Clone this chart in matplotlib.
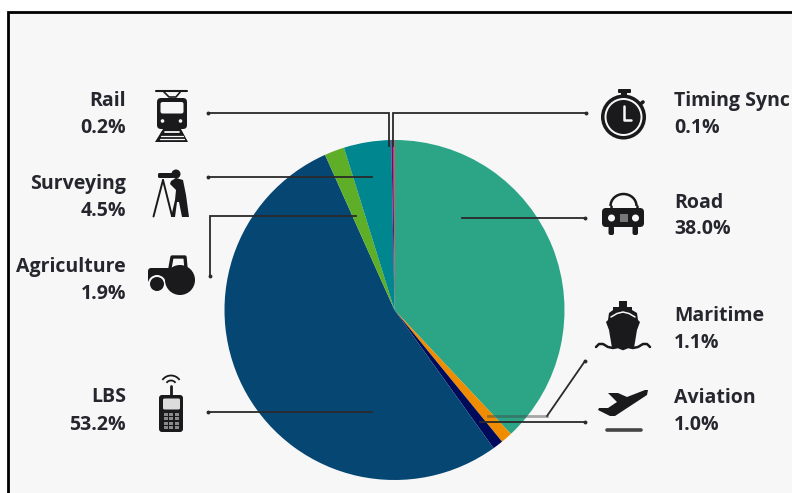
import numpy as np
import matplotlib
matplotlib.use("Agg")
import matplotlib.pyplot as plt
from matplotlib.patches import Circle, FancyBboxPatch, Polygon, Rectangle, Arc

# Slices run clockwise from twelve o'clock
sectors = ["Road", "Maritime", "Aviation", "LBS", "Agriculture", "Surveying", "Rail", "Timing Sync"]
shares = [38.0, 1.1, 1.0, 53.2, 1.9, 4.5, 0.2, 0.1]
colors = ["#2ca587", "#f08c00", "#000a5a", "#054673", "#5fae28", "#00868f", "#6a0a78", "#cc1020"]

INK = "#1a1a1c"
TEXT = "#26262e"
PAPER = "#f7f7f7"

fig = plt.figure(figsize=(7.92, 4.93), dpi=100, facecolor="white")
ax = fig.add_axes([0, 0, 1, 1])

# y axis points down, so counterclock=True runs clockwise on screen
ax.pie(shares, colors=colors, center=(394.5, 310), radius=170,
       startangle=-90, counterclock=True, frame=True,
       wedgeprops={"linewidth": 0, "zorder": 2})
ax.set_xlim(0, 792)
ax.set_ylim(493, 0)
ax.set_aspect("auto")
ax.axis("off")

# panel
ax.add_patch(Rectangle((8, 12), 800, 500, facecolor=PAPER, edgecolor="black",
                       linewidth=2, zorder=0))


def rrect(x0, y0, x1, y1, r=2, color=INK, z=5):
    ax.add_patch(FancyBboxPatch((x0 + r, y0 + r), x1 - x0 - 2 * r, y1 - y0 - 2 * r,
                                boxstyle=f"round,pad={r},rounding_size={r}",
                                facecolor=color, edgecolor="none", zorder=z))


def poly(pts, color=INK, z=5):
    ax.add_patch(Polygon(pts, closed=True, facecolor=color, edgecolor="none", zorder=z))


def disc(x, y, r, color=INK, z=5):
    ax.add_patch(Circle((x, y), r, facecolor=color, edgecolor="none", zorder=z))


def stroke(xs, ys, lw=1.5, color=INK, z=5):
    ax.plot(xs, ys, color=color, lw=lw, solid_capstyle="round", zorder=z)


def leader(xs, ys, color="#2a2a2a", alpha=1.0):
    ax.plot(xs, ys, color=color, lw=1.3, alpha=alpha, solid_joinstyle="miter", zorder=4)
    ax.plot(xs[0], ys[0], "o", color=color, ms=2.8, mew=0, zorder=4)


def train():
    stroke([155.5, 187], [90.5, 90.5], 1.5)
    stroke([163, 169, 176, 181], [91, 97, 97, 91], 1.2)
    rrect(157, 98, 187, 129, 4)
    rrect(160.5, 102, 183.5, 113.5, 2, PAPER, 6)
    disc(162.5, 121, 1.8, PAPER, 6)
    disc(180.5, 121, 1.8, PAPER, 6)
    poly([(163, 129), (181, 129), (188, 142), (155, 142)])
    stroke([165, 179], [131.5, 131.5], 1.3, PAPER, 6)
    stroke([161, 183], [135.5, 135.5], 0.9, PAPER, 6)
    stroke([160, 184], [139, 139], 0.9, PAPER, 6)


def surveyor():
    rrect(158, 173, 174, 178, 1.5)
    disc(176, 174, 4.5)
    poly([(176, 178), (183, 180), (186, 195), (189, 217), (182, 217), (179, 202),
          (177, 202), (175, 217), (171, 217), (175, 200), (176, 190), (170, 184), (171, 181)])
    stroke([163, 153.5], [180, 216.5], 1.4)
    stroke([163, 172], [180, 216], 1.4)


def tractor():
    rrect(148, 268, 176, 283, 3)
    stroke([170, 172, 185, 186], [268, 257, 257, 268], 2.4)
    disc(157, 284, 9, PAPER, 6)
    disc(157, 284, 7, INK, 7)
    disc(180, 280, 15, INK, 7)


def phone():
    rrect(159, 395, 183, 432, 3)
    rrect(163, 398.5, 180, 409.5, 1.5, "#dcdcdc", 6)
    for row in range(4):
        for col in range(3):
            ax.add_patch(Rectangle((163.5 + col * 5.7, 413 + row * 4.4), 4, 3,
                                   facecolor="#8a8a8a", edgecolor="none", zorder=6))
    stroke([171, 171], [386, 395], 2)
    ax.add_patch(Arc((171, 386), 11, 11, theta1=215, theta2=325, color=INK, lw=1.3, zorder=5))
    ax.add_patch(Arc((171, 386), 21, 21, theta1=215, theta2=325, color=INK, lw=1.3, zorder=5))


def stopwatch():
    disc(623.5, 117, 22.5)
    disc(623.5, 117, 19, PAPER, 6)
    disc(623.5, 117, 17, INK, 7)
    stroke([623.5, 623.5, 631], [106, 119.5, 119.5], 1.8, PAPER, 8)
    rrect(618, 89, 631, 93, 1)
    ax.add_patch(Rectangle((621, 92), 6, 5, facecolor=INK, edgecolor="none", zorder=5))
    stroke([638, 643], [106, 102], 2.6)


def car():
    ax.add_patch(Arc((623.5, 206), 26, 24, theta1=180, theta2=360, color=INK, lw=1.8, zorder=5))
    stroke([610.5, 610.5], [206, 210], 1.8)
    stroke([636.5, 636.5], [206, 210], 1.8)
    rrect(602, 208, 644, 227, 4)
    disc(611.5, 218, 3.5, PAPER, 6)
    disc(635.5, 218, 3.5, PAPER, 6)
    ax.add_patch(Rectangle((619.5, 214), 8, 8, facecolor="#777777", edgecolor="none", zorder=6))
    rrect(608.5, 226, 614, 235, 2)
    rrect(632.5, 226, 638, 235, 2)


def ship():
    poly([(619, 301), (627, 301), (627, 307), (632, 307), (632, 310), (637, 313),
          (638, 320), (640, 322), (637, 330), (634, 348), (612, 348), (609, 330),
          (606, 322), (608, 320), (609, 313), (613, 310), (613, 307), (619, 307)])
    stroke([611, 617, 623, 629, 635], [317, 313.5, 312, 313.5, 317], 1.1, PAPER, 6)
    wave_x = [596, 599, 603, 608, 613, 618, 623, 628, 633, 638, 643, 647, 650]
    wave_y = [347, 344, 344, 347, 348, 347, 349, 347, 348, 347, 344, 344, 347]
    stroke(wave_x, wave_y, 1.8)


def plane():
    poly([(648, 390), (645, 390), (627, 397), (618, 393), (608, 393), (617, 402),
          (608, 408), (599, 408), (598, 410), (610, 416), (615, 416), (647, 395)])
    stroke([606.5, 640.5], [430, 430], 2.6, "#444444")


for draw_icon in (train, surveyor, tractor, phone, stopwatch, car, ship, plane):
    draw_icon()

# leader lines, drawn from the icon side towards the slice
leader([208, 388.5, 388.5], [113, 113, 146])
leader([586, 392.5, 392.5], [113, 113, 146])
leader([208, 372], [177, 177])
leader([210, 210, 356], [276, 216, 216])
leader([208, 372], [411.5, 411.5])
leader([585, 462], [218, 218])
leader([585, 547], [361, 416])
ax.plot([547, 488], [416, 416], color="#444444", alpha=0.45, lw=2, zorder=4)
leader([585, 480], [421.5, 421.5])

# label rows: name centre, share centre
label_left = {"Rail": (101, 128), "Surveying": (184, 211), "Agriculture": (267, 294), "LBS": (397, 425)}
label_right = {"Timing Sync": (101, 128), "Road": (203, 229), "Maritime": (316, 343), "Aviation": (398, 425)}
share_of = dict(zip(sectors, shares))
font = dict(family="Open Sans", fontsize=14, fontweight="bold", color=TEXT, va="center", zorder=6)

for name, (y0, y1) in label_left.items():
    ax.text(126, y0, name, ha="right", **font)
    ax.text(126, y1, f"{share_of[name]:.1f}%", ha="right", **font)
for name, (y0, y1) in label_right.items():
    ax.text(674, y0, name, ha="left", **font)
    ax.text(674, y1, f"{share_of[name]:.1f}%", ha="left", **font)

fig.savefig("out.png", dpi=100, facecolor="white")
